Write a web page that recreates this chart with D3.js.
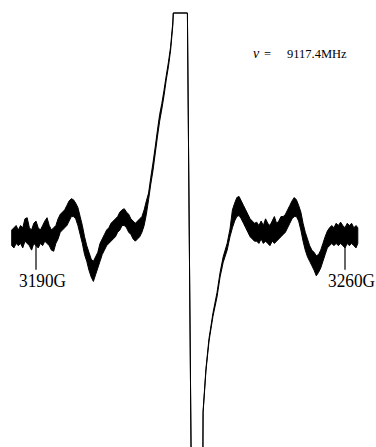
<!DOCTYPE html>
<html>
<head>
<meta charset="utf-8">
<script src="https://cdn.jsdelivr.net/npm/d3@7/dist/d3.min.js"></script>
<style>
  html, body { margin: 0; padding: 0; background: #fff; }
  svg { display: block; overflow: hidden; }
</style>
</head>
<body>
<svg id="chart" width="376" height="447"></svg>
<script>
// EPR trace, rows are [field G, lower, upper] in recorder units (baseline 0, pen limit 100)
const baselineLeft = [
  [3184.5, -4, 3], [3185.0, -5, 4], [3185.5, -3, 5], [3186.0, -4, 3], [3186.5, -3, 5],
  [3187.0, -5, 4], [3187.5, -2, 8], [3188.0, -3, 8.5], [3188.5, -4, 4], [3189.0, -6, 3],
  [3189.5, -3, 6], [3190.0, -4, 7], [3190.5, -5, 4], [3191.0, -3, 3], [3191.5, -4, 5],
  [3192.0, -2, 7], [3192.5, -3, 8.5], [3193.0, -4, 5], [3193.5, -6, 3], [3194.0, -6.5, 4],
  [3194.5, -3, 5], [3195.0, -1, 8], [3195.5, 2, 10], [3196.0, 3, 11], [3196.5, 4, 12],
  [3197.0, 5, 14], [3197.5, 7, 16], [3198.0, 9, 17], [3198.5, 9, 16.5], [3199.0, 8, 15],
  [3199.5, 5, 13], [3200.0, 1, 9], [3200.5, -3, 5], [3201.0, -8, 0], [3201.5, -11, -4],
  [3202.0, -15, -7], [3202.5, -18, -10], [3203.0, -20, -11], [3203.5, -17, -9], [3204.0, -14, -7],
  [3204.5, -11, -3], [3205.0, -8, -1], [3205.5, -6, 1], [3206.0, -4, 3], [3206.5, -3, 4],
  [3207.0, -2, 6], [3207.5, -1, 7], [3208.0, 0, 8], [3208.5, 2, 9], [3209.0, 3, 11],
  [3209.5, 5, 12], [3210.0, 5, 12.5], [3210.5, 4, 11], [3211.0, 2, 10], [3211.5, 1, 8],
  [3212.0, -1, 7], [3212.5, -2, 6], [3213.0, -1, 7], [3213.5, 0, 8], [3214.0, 2, 9],
  [3214.5, 5, 12], [3215.0, 10, 16]
];

const riseLeft = [
  [3215.5, 16.5, 19.5], [3216.0, 23.5, 26.5], [3216.5, 29.5, 33], [3217.0, 37, 40],
  [3217.5, 44.5, 47.5], [3218.0, 51.5, 54.5], [3218.5, 57, 59.5], [3219.0, 63, 65.5],
  [3219.5, 70, 72], [3220.0, 76, 78], [3220.5, 83.5, 85], [3221.0, 94.5, 96]
];

// pen at its limit, then the fast swing down past the bottom of the paper
const saturated = [
  [3221.1, 100, 100], [3224.3, 100, 100], [3225.15, -100, -100], [3227.8, -100, -100]
];

const riseRight = [
  [3227.85, -78.6, -78], [3228.5, -60, -59], [3229.2, -46.6, -45.4], [3230.1, -35.5, -34],
  [3231.0, -27, -25], [3231.7, -18, -16], [3232.4, -11.5, -9], [3233.3, -6, -3],
  [3233.95, 0, 3.5], [3234.5, 4, 12]
];

const baselineRight = [
  [3235.0, 7, 15], [3235.5, 9, 17.5], [3236.0, 9.5, 18], [3236.5, 8, 16], [3237.0, 6, 14],
  [3237.5, 4, 12], [3238.0, 2, 10], [3238.5, 0, 8], [3239.0, -1, 7], [3239.5, -2, 6],
  [3240.0, -2, 6.5], [3240.5, -3, 5], [3241.0, -1, 7], [3241.5, -3, 5], [3242.0, -2, 8],
  [3242.5, -3, 6], [3243.0, -4, 5], [3243.5, -2, 7], [3244.0, -3, 9], [3244.5, -2, 6],
  [3245.0, -1, 7], [3245.5, 0, 9], [3246.0, 1, 9], [3246.5, 2, 10], [3247.0, 4, 12],
  [3247.5, 6, 14], [3248.0, 8, 16], [3248.5, 9, 17.5], [3249.0, 9, 16.5], [3249.5, 7, 14],
  [3250.0, 3, 11], [3250.5, -2, 6], [3251.0, -6, 2], [3251.5, -9, -1], [3252.0, -11, -4],
  [3252.5, -13, -6], [3253.0, -15, -7], [3253.5, -17.5, -8.5], [3254.0, -16, -8], [3254.5, -14, -6],
  [3255.0, -11, -3], [3255.5, -8, 0], [3256.0, -5, 2.5], [3256.5, -4, 4], [3257.0, -3, 5],
  [3257.5, -4, 4], [3258.0, -3, 6], [3258.5, -4, 5], [3259.0, -3, 6.5], [3259.5, -4, 5],
  [3260.0, -5, 4], [3260.5, -3, 6], [3261.0, -4, 5], [3261.5, -3, 6], [3262.0, -4, 4],
  [3262.5, -5, 5], [3262.9, -3, 4]
];

const tickFields = [3190, 3260];
const tickLabels = ['3190G', '3260G'];
const freqSymbol = 'ν';
const freqValue = '9117.4MHz';

const svg = d3.select('#chart');
const serif = '"Liberation Serif", "DejaVu Serif", serif';

const x = d3.scaleLinear()
  .domain([3190, 3260])
  .range([36, 345]);

const y = d3.scaleLinear()
  .domain([-94, 100])
  .range([447, 13]);

const trace = baselineLeft.concat(riseLeft, saturated, riseRight, baselineRight);

const band = d3.area()
  .x(d => x(d[0]))
  .y0(d => y(d[1]))
  .y1(d => y(d[2]));

svg.append('path')
  .datum(trace)
  .attr('d', band)
  .attr('fill', '#000')
  .attr('stroke', '#000')
  .attr('stroke-width', 1)
  .attr('stroke-linejoin', 'round');

// field markers hanging under the baseline
svg.selectAll('line.tick')
  .data(tickFields)
  .enter()
  .append('line')
  .attr('class', 'tick')
  .attr('x1', d => x(d))
  .attr('x2', d => x(d))
  .attr('y1', y(0))
  .attr('y2', y(0) + 33)
  .attr('stroke', '#000')
  .attr('stroke-width', 1.2);

svg.selectAll('text.tick')
  .data(tickFields)
  .enter()
  .append('text')
  .attr('class', 'tick')
  .attr('x', d => x(d) - 17)
  .attr('y', 287)
  .attr('font-family', serif)
  .attr('font-size', 18)
  .attr('textLength', 47)
  .attr('lengthAdjust', 'spacingAndGlyphs')
  .attr('fill', '#000')
  .text((d, i) => tickLabels[i]);

const freq = svg.append('text')
  .attr('x', 253)
  .attr('y', 58)
  .attr('font-family', serif)
  .attr('font-size', 12.5)
  .attr('fill', '#000');

freq.append('tspan')
  .attr('font-style', 'italic')
  .attr('font-size', 14)
  .text(freqSymbol);

freq.append('tspan')
  .attr('x', 264)
  .text('=');

freq.append('tspan')
  .attr('x', 287)
  .text(freqValue);
</script>
</body>
</html>
